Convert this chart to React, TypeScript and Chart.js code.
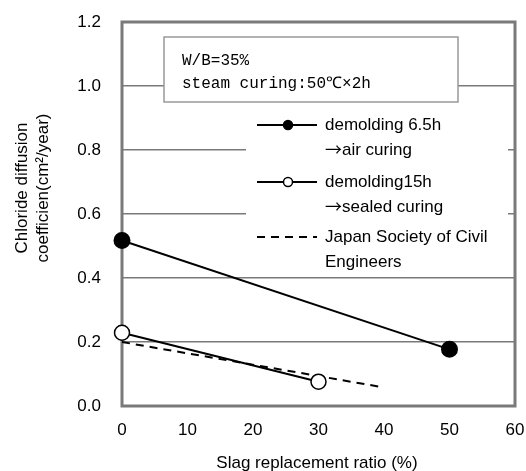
import React, { useEffect, useRef } from "react";
import { Chart, registerables } from "chart.js";

Chart.register(...registerables);

// Slag replacement ratio (%) and chloride diffusion coefficient (cm²/year)
const airCuringX = [0, 50];
const airCuringY = [0.517, 0.177];
const sealedCuringX = [0, 30];
const sealedCuringY = [0.229, 0.076];
const jsceX = [0, 40];
const jsceY = [0.2, 0.058];

const xTicks = [0, 10, 20, 30, 40, 50, 60];
const yTicks = [0, 0.2, 0.4, 0.6, 0.8, 1.0, 1.2];

const conditionLines = ["W/B=35%", "steam curing:50℃×2h"];
const legendEntries = [
  { lines: ["demolding 6.5h", "→air curing"], marker: "filled" },
  { lines: ["demolding15h", "→sealed curing"], marker: "open" },
  { lines: ["Japan Society of Civil", "Engineers"], marker: "dashed" },
];
const yTitle = ["Chloride diffusion", "coefficien(cm²/year)"];
const xTitle = "Slag replacement ratio (%)";

const SANS = "'Liberation Sans', Arial, sans-serif";
const CJK = "'Noto Sans CJK JP', sans-serif";
const MONO = "'Liberation Mono', 'DejaVu Sans Mono', monospace";
const GRID = "#7a7a7a";

const toPoints = (xs: number[], ys: number[]) => xs.map((x, i) => ({ x, y: ys[i] }));

const LEGEND_ROWS = [125, 182, 237];

// Boxes and frame sit under the data lines
const underlay = {
  id: "underlay",
  beforeDatasetsDraw(chart: any) {
    const { ctx, chartArea } = chart;
    const { left, top, right, bottom } = chartArea;
    ctx.save();
    ctx.fillStyle = "#fff";
    ctx.fillRect(246, 111, 262, 158);

    ctx.fillRect(164, 37, 294, 65);
    ctx.strokeStyle = "#999";
    ctx.lineWidth = 1.5;
    ctx.strokeRect(164, 37, 294, 65);

    ctx.strokeStyle = GRID;
    ctx.lineWidth = 3;
    ctx.strokeRect(left, top, right - left, bottom - top);
    ctx.restore();
  },
};

// Text: a leading arrow uses the CJK face, the rest the sans face
const drawLabel = (ctx: any, text: string, x: number, y: number) => {
  if (text.startsWith("→")) {
    ctx.font = `17px ${CJK}`;
    ctx.fillText("→", x, y);
    const w = ctx.measureText("→").width;
    ctx.font = `17px ${SANS}`;
    ctx.fillText(text.slice(1), x + w, y);
  } else {
    ctx.font = `17px ${SANS}`;
    ctx.fillText(text, x, y);
  }
};

const overlay = {
  id: "overlay",
  afterDraw(chart: any) {
    const { ctx } = chart;
    ctx.save();

    ctx.fillStyle = "#000";
    ctx.font = `16px ${MONO}`;
    ctx.textAlign = "left";
    ctx.textBaseline = "middle";
    ctx.fillText(conditionLines[0], 182, 61);
    ctx.fillText(conditionLines[1], 182, 84);

    legendEntries.forEach((e, i) => {
      const y = LEGEND_ROWS[i];
      ctx.strokeStyle = "#000";
      ctx.lineWidth = 2;
      ctx.setLineDash(e.marker === "dashed" ? [8, 6] : []);
      ctx.beginPath();
      ctx.moveTo(257, y);
      ctx.lineTo(317, y);
      ctx.stroke();
      ctx.setLineDash([]);
      if (e.marker !== "dashed") {
        ctx.beginPath();
        ctx.arc(288, y, 4.5, 0, Math.PI * 2);
        ctx.fillStyle = e.marker === "filled" ? "#000" : "#fff";
        ctx.fill();
        ctx.lineWidth = 1.5;
        ctx.stroke();
      }
      ctx.fillStyle = "#000";
      drawLabel(ctx, e.lines[0], 325, y);
      drawLabel(ctx, e.lines[1], 325, y + 25);
    });

    ctx.font = `17px ${SANS}`;
    ctx.textAlign = "center";
    ctx.fillText(xTitle, 317, 463);
    [22, 43].forEach((x, i) => {
      ctx.save();
      ctx.translate(x, 188);
      ctx.rotate(-Math.PI / 2);
      ctx.fillText(yTitle[i], 0, 0);
      ctx.restore();
    });

    ctx.restore();
  },
};

export default function App() {
  const ref = useRef<HTMLCanvasElement>(null);

  useEffect(() => {
    document.body.style.margin = "0";
    const chart = new Chart(ref.current!, {
      type: "scatter",
      data: {
        datasets: [
          {
            label: "demolding 6.5h →air curing",
            data: toPoints(airCuringX, airCuringY),
            showLine: true,
            clip: false,
            borderColor: "#000",
            borderWidth: 2,
            pointRadius: 7.5,
            pointBackgroundColor: "#000",
            pointBorderColor: "#000",
          },
          {
            label: "demolding15h →sealed curing",
            data: toPoints(sealedCuringX, sealedCuringY),
            showLine: true,
            clip: false,
            borderColor: "#000",
            borderWidth: 2,
            pointRadius: 7.5,
            pointBackgroundColor: "#fff",
            pointBorderColor: "#000",
            pointBorderWidth: 1.5,
          },
          {
            label: "Japan Society of Civil Engineers",
            data: toPoints(jsceX, jsceY),
            showLine: true,
            clip: false,
            borderColor: "#000",
            borderWidth: 2,
            borderDash: [8, 6],
            pointRadius: 0,
          },
        ],
      },
      options: {
        responsive: false,
        animation: false,
        layout: { padding: { top: 22, right: 11, left: 0, bottom: 0 } },
        plugins: { legend: { display: false }, tooltip: { enabled: false } },
        scales: {
          x: {
            type: "linear",
            min: 0,
            max: 60,
            afterBuildTicks: (s: any) => {
              s.ticks = xTicks.map((v) => ({ value: v }));
            },
            afterFit: (s: any) => {
              s.height = 65;
              s.paddingLeft = 0;
              s.paddingRight = 0;
            },
            grid: { display: false, drawTicks: false },
            border: { display: false },
            ticks: {
              padding: 14,
              color: "#000",
              font: { size: 17, family: SANS },
            },
          },
          y: {
            type: "linear",
            min: 0,
            max: 1.2,
            afterBuildTicks: (s: any) => {
              s.ticks = yTicks.map((v) => ({ value: v }));
            },
            afterFit: (s: any) => {
              s.width = 122;
              s.paddingTop = 0;
              s.paddingBottom = 0;
            },
            grid: { color: GRID, lineWidth: 1.5, drawTicks: false },
            border: { display: false },
            ticks: {
              padding: 21,
              color: "#000",
              font: { size: 17, family: SANS },
              callback: (v: any) => Number(v).toFixed(1),
            },
          },
        },
      },
      plugins: [underlay, overlay],
    });
    return () => chart.destroy();
  }, []);

  return <canvas ref={ref} width={526} height={471} style={{ display: "block" }} />;
}
